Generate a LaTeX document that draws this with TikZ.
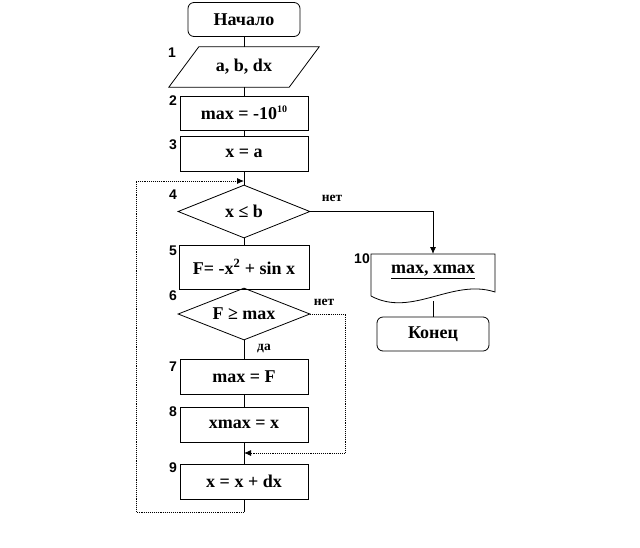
\documentclass[tikz,border=0pt]{standalone}
\usepackage{fontspec}
\setmainfont{Liberation Serif}
\newfontfamily\numfont{Liberation Sans}
\usetikzlibrary{shapes.geometric,arrows.meta}
\begin{document}
\begin{tikzpicture}[x=1pt,y=-1pt,
  txt/.style={font=\fontsize{18}{21}\selectfont\bfseries},
  blk/.style={draw,line width=0.8pt,txt,inner sep=0pt},
  proc/.style={blk,rectangle,minimum width=128,minimum height=35},
  term/.style={blk,rectangle,rounded corners=6pt,minimum width=112,minimum height=34},
  dec/.style={blk,diamond,aspect=2.5,minimum width=132,minimum height=53},
  num/.style={font=\numfont\fontsize{14}{16}\selectfont\bfseries,inner sep=0pt},
  lab/.style={font=\fontsize{13.5}{15}\selectfont\bfseries,inner sep=0pt},
  ln/.style={line width=0.9pt},
  dln/.style={line width=0.9pt,densely dotted},
  arr/.style={-{Latex[length=7pt,width=6pt]}}
]
\useasboundingbox (0,0) rectangle (640,547);

% blocks
\node[term] (start) at (244,19.5) {Начало};
\node[txt,inner sep=0pt,minimum width=120,minimum height=40] (n1) at (244,67) {a, b, dx};
\draw[line width=0.8pt] ([xshift=15pt]n1.north west) -- ([xshift=15pt]n1.north east)
  -- ([xshift=-15pt]n1.south east) -- ([xshift=-15pt]n1.south west) -- cycle;
\node[proc,minimum height=34] (b2) at (244,113) {max = -10\raisebox{6.5pt}{\fontsize{10}{10}\selectfont 10}};
\node[proc] (b3) at (244,153.5) {x = a};
\node[dec] (d4) at (244,211.5) {x ≤ b};
\node[proc,minimum width=130,minimum height=44] (b5) at (244,267) {F= -x\textsuperscript{2} + sin x};
\node[dec,minimum height=52] (d6) at (244,314) {F ≥ max};
\node[proc] (b7) at (244,376.5) {max = F};
\node[proc] (b8) at (244,424.5) {xmax = x};
\node[proc] (b9) at (244,481.5) {x = x + dx};

% output document
\node[txt,inner sep=0pt] (b10) at (433,272) {\underline{max, xmax}};
\draw[line width=0.8pt] (371,296) -- (371,254) -- (495,254) -- (495,292)
  .. controls (452,278) and (412,318) .. (371,296);
\coordinate (b10top) at (433,254);
\coordinate (b10b) at (433,301);
\node[term] (end) at (433,334) {Конец};

% number labels
\node[num] (l1) at (172,53) {1};
\node[num] (l2) at (173,101) {2};
\node[num] (l3) at (173,145) {3};
\node[num] (l4) at (173,195) {4};
\node[num] (l5) at (173,251) {5};
\node[num] (l6) at (173,296) {6};
\node[num] (l7) at (173,367) {7};
\node[num] (l8) at (173,412) {8};
\node[num] (l9) at (173,468) {9};
\node[num] (l10) at (362,259) {10};

% branch labels
\node[lab] (no1) at (332,198) {нет};
\node[lab] (no2) at (324,302) {нет};
\node[lab] (yes) at (264,348) {да};

% junctions
\coordinate (j1) at (244,181);
\coordinate (j2) at (244,453);
\coordinate (lb) at (244,512);
\coordinate (ll) at (136,181);

% connectors
\draw[ln] (start) -- (n1);
\draw[ln] (n1) -- (b2);
\draw[ln] (b2) -- (b3);
\draw[ln] (b3) -- (d4);
\draw[ln] (d4) -- (b5);
\draw[ln] (b5) -- (d6);
\draw[ln] (d6) -- (b7);
\draw[ln] (b7) -- (b8);
\draw[ln] (b8) -- (b9);
\draw[ln,arr] (d4.east) -| (b10top);
\draw[dln,arr] (d6.east) -- ++(35,0) |- (j2);
\draw[ln] (b9) -- (lb);
\draw[dln,arr] (lb) -| (ll) -- (j1);
\draw[ln] (b10b) -- (end);
\end{tikzpicture}
\end{document}
